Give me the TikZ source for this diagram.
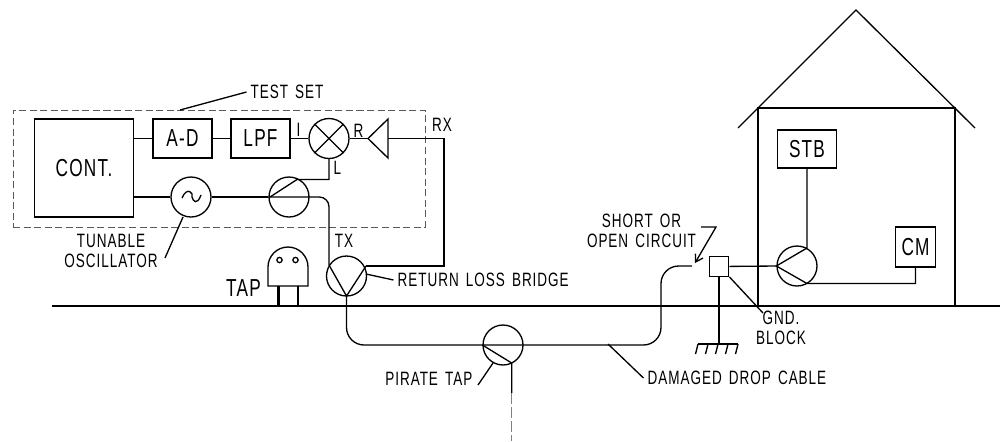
\documentclass[tikz,border=0pt]{standalone}
\usepackage{fontspec}
\setmainfont{Liberation Sans}[FakeStretch=0.7,LetterSpace=5,WordSpace=1.5]
\usetikzlibrary{arrows.meta,positioning,calc}
\tikzset{
  wire/.style={line width=0.75pt},
  unitbox/.style={draw,line width=0.75pt,minimum width=1.18cm,minimum height=0.78cm,inner sep=0pt,font=\fontsize{14}{14}\selectfont},
  ringnode/.style={draw,circle,line width=0.75pt,minimum size=0.8cm,inner sep=0pt},
  lbl/.style={inner sep=0pt,font=\fontsize{11}{11.3}\selectfont,align=center},
  biglbl/.style={inner sep=0pt,font=\fontsize{14}{14}\selectfont}
}
\begin{document}
\begin{tikzpicture}[x=0.02cm,y=-0.02cm,wire]
  \useasboundingbox (0,0) rectangle (1000,441);
  % test set
  \node[draw,dash pattern=on 4pt off 2pt,line width=0.5pt,gray!70!black,minimum width=8.24cm,minimum height=2.34cm,inner sep=0pt] (testset) at (219,168.5) {};
  \node[unitbox,minimum width=1.97cm,minimum height=1.96cm] (cont) at (84,168) {CONT.};
  \node[unitbox] (ad) at (182.5,138.5) {A-D};
  \node[unitbox] (lpf) at (260.5,138.5) {LPF};
  \node[ringnode] (mixer) at (329,138.5) {};
  \draw (mixer.north west) -- (mixer.south east) (mixer.north east) -- (mixer.south west);
  \coordinate (ampa) at (368,138.5);
  \coordinate (ampb) at (388,119);
  \coordinate (ampc) at (388,158);
  \draw (ampa) -- (ampb) -- (ampc) -- cycle;
  \node[ringnode] (osc) at (191,197) {};
  \draw ($(osc)+(-9,1)$) .. controls ($(osc)+(-4,-11)$) and ($(osc)+(3,-4)$) .. ($(osc)+(1,0)$) .. controls ($(osc)+(2,4)$) and ($(osc)+(6,9)$) .. ($(osc)+(10,-2)$);
  \node[ringnode] (split) at (289,197) {};
  \node[ringnode] (bridge) at (346.5,276) {};
  \node[ringnode] (pirate) at (503,345) {};
  \node[ringnode] (house) at (797,266) {};

  \draw (cont.east |- ad) -- (ad);
  \draw (ad) -- (lpf);
  \draw (lpf) -- (mixer);
  \draw (mixer) -- (ampa);
  \draw (cont.east |- osc) -- (osc);
  \draw (osc) -- (split.west);
  % line to the bridge and back
  \coordinate (spliti) at (270,197);
  \coordinate (splito) at (297,179.5);
  \coordinate (bridgel) at (329,265);
  \coordinate (bridger) at (366,266);
  \coordinate (bridgeb) at (346.5,296);
  \draw[rounded corners=5.5pt] (split.west) -- (329,197) -- (bridgel);
  \draw (spliti) -- (splito) -| (mixer.south);
  \draw (bridgel) -- (bridgeb) -- (bridger);
  \draw (ampb |- mixer) -- (444,138.5) -- (444,266) -- (bridger);

  % ground and cable
  \coordinate (grounda) at (52,306);
  \coordinate (groundb) at (1000,306);
  \draw (grounda) -- (groundb);
  \coordinate (cablea) at (346.5,345);
  \coordinate (cableb) at (661,345);
  \coordinate (cablec) at (661,266);
  \coordinate (cabled) at (692,266);
  \draw[rounded corners=10pt] (bridgeb) -- (cablea) -- (cableb) -- (cablec) -- (cabled);
  \coordinate (pirateo) at (511.7,363);
  \coordinate (pirated) at (511.7,393);
  \draw (pirate.west) -- (pirateo) -- (pirated);
  \draw[gray,dash pattern=on 6pt off 2pt] (pirated) -- (511.7,441);

  % tap
  \coordinate (tapl) at (268,286);
  \coordinate (tapr) at (308,286);
  \draw (tapl) -- (268,267) arc[start angle=180,end angle=0,radius=0.4cm] -- (tapr) -- cycle;
  \draw (279.5,260) circle (1.5pt) (295.5,260) circle (1.5pt);
  \draw[line width=1.7pt] (278.5,286) -- (278.5,306) (298,286) -- (298,306);

  % house
  \coordinate (apex) at (856,10);
  \draw (738,128) -- (apex) -- (975,128);
  \draw (758,306) -- (758,108) -- (955,108) -- (955,306);
  \node[unitbox,minimum height=0.76cm] (stb) at (807,149) {STB};
  \node[unitbox,minimum width=0.79cm,minimum height=0.8cm] (cm) at (915.5,247) {CM};
  \node[draw,line width=0.75pt,minimum size=0.39cm,inner sep=0pt] (block) at (719,266.5) {};
  \coordinate (houseu) at (807,248);
  \coordinate (housed) at (807,283.5);
  \draw (block) -- (house.west);
  \draw (stb) -- (houseu) -- (house.west) -- (housed) -| (cm);
  \draw (block) -- (719,344);
  \coordinate (hatchl) at (698,344);
  \coordinate (hatchr) at (738,344);
  \draw (hatchl) -- (hatchr);
  \foreach \x in {698,708,718,728,738}
    \draw (\x,344) -- (\x-2.5,354);

  % labels
  \node[lbl,anchor=west] (testlbl) at (250,92) {TEST SET};
  \draw (180,110) -- ([xshift=-2pt]testlbl.west);
  \node[lbl] (rxlbl) at (442,125) {RX};
  \node[lbl] (txlbl) at (344,241) {TX};
  \node[lbl] (ilbl) at (298.5,130) {I};
  \node[lbl] (rlbl) at (358.5,131) {R};
  \node[lbl] (llbl) at (337.5,168) {L};
  \node[lbl] (osclbl) at (111,251) {TUNABLE\\OSCILLATOR};
  \draw (183,217) -- (165,258);
  \node[biglbl] (taplbl) at (243.5,288) {TAP};
  \node[lbl,anchor=west] (returnlbl) at (397,280) {RETURN LOSS BRIDGE};
  \draw (366,274) -- ([xshift=-2pt]returnlbl.west);
  \node[lbl,anchor=east] (piratelbl) at (473,379) {PIRATE TAP};
  \draw (493,363) -- (478,385);
  \node[lbl,anchor=west] (droplbl) at (647,378) {DAMAGED DROP CABLE};
  \draw (608,344) -- ([xshift=-2pt]droplbl.west);
  \node[lbl] (shortlbl) at (641.5,231) {SHORT OR\\OPEN CIRCUIT};
  \draw[-{Straight Barb[length=4pt,width=5pt]}] (701,227) -- (716,227) -- (695,263);
  \node[lbl] (gndlbl) at (781,328) {GND.\\BLOCK};
  \draw (block.south east) -- (763,313);
\end{tikzpicture}
\end{document}
